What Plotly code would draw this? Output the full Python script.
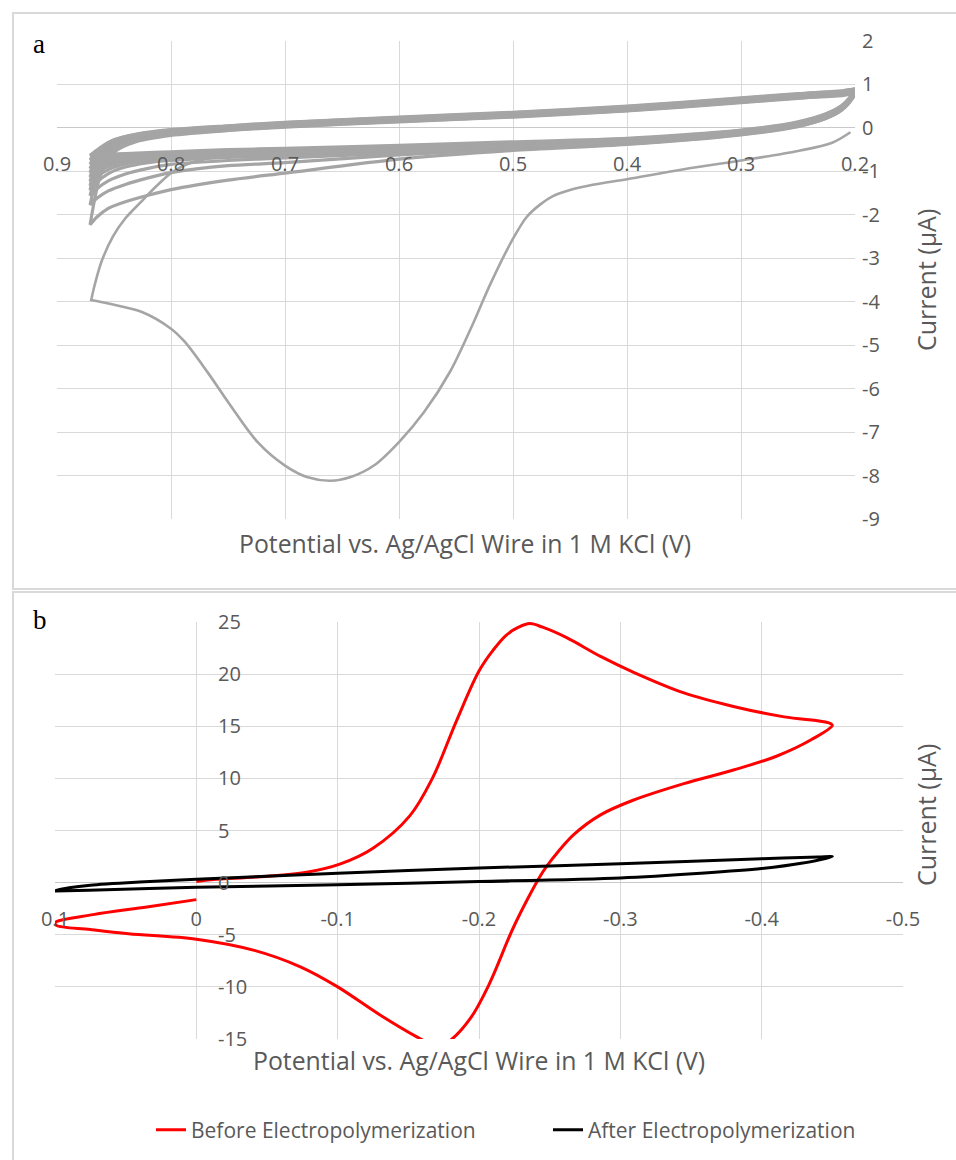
import plotly.graph_objects as go

# ---------------- Panel a data (potential V, current uA) ----------------
A_XTICKS = [0.9, 0.8, 0.7, 0.6, 0.5, 0.4, 0.3, 0.2]
A_XTICKTEXT = ["0.9", "0.8", "0.7", "0.6", "0.5", "0.4", "0.3", "0.2"]
A_YTICKS = [2, 1, 0, -1, -2, -3, -4, -5, -6, -7, -8, -9]
A_YTICKTEXT = ["2", "1", "0", "-1", "-2", "-3", "-4", "-5", "-6", "-7", "-8", "-9"]

# first cycle, forward scan (0.2 -> 0.87) with the big peak
A_C1_FWD_X = [0.204, 0.22, 0.25, 0.3, 0.35, 0.4, 0.43, 0.45, 0.465, 0.476, 0.488, 0.5, 0.52,
              0.535, 0.555, 0.578, 0.6, 0.622, 0.643, 0.66, 0.68, 0.7, 0.724, 0.748, 0.768,
              0.788, 0.8, 0.826, 0.855, 0.870]
A_C1_FWD_Y = [-0.1, -0.34, -0.53, -0.75, -0.95, -1.18, -1.31, -1.43, -1.57, -1.76, -2.05, -2.55,
              -3.6, -4.5, -5.6, -6.54, -7.23, -7.77, -8.04, -8.12, -8.04, -7.77, -7.23, -6.38,
              -5.62, -4.92, -4.62, -4.23, -4.04, -3.96]
# first cycle, reverse scan (0.87 -> 0.2)
A_C1_REV_X = [0.870, 0.867, 0.861, 0.851, 0.84, 0.827, 0.812, 0.798, 0.78, 0.75, 0.7, 0.6, 0.5,
              0.4, 0.3, 0.25, 0.225, 0.212, 0.205, 0.2]
A_C1_REV_Y = [-3.96, -3.62, -3.08, -2.5, -2.08, -1.72, -1.32, -1.0, -0.78, -0.64, -0.57, -0.5,
              -0.42, -0.32, -0.12, 0.06, 0.25, 0.43, 0.61, 0.81]

# later cycles: upper branch (0.2 -> 0.871) and lower branch (0.871 -> 0.2)
A_UP_X = [0.2, 0.203, 0.21, 0.25, 0.3, 0.4, 0.5, 0.6, 0.7, 0.75, 0.8, 0.83, 0.85, 0.862, 0.871]
A_LO_X = [0.871, 0.865, 0.855, 0.84, 0.82, 0.8, 0.75, 0.7, 0.6, 0.5, 0.4, 0.3, 0.25, 0.225,
          0.212, 0.205, 0.2]

C02_UP = [0.79, 0.78, 0.75, 0.68, 0.58, 0.39, 0.25, 0.14, 0.02, -0.06, -0.17, -0.31, -0.56, -1.10, -2.23]
C03_UP = [0.80, 0.79, 0.76, 0.69, 0.59, 0.40, 0.26, 0.15, 0.03, -0.05, -0.15, -0.28, -0.49, -0.90, -1.77]
C04_UP = [0.81, 0.80, 0.77, 0.70, 0.60, 0.41, 0.27, 0.16, 0.04, -0.04, -0.13, -0.25, -0.43, -0.76, -1.56]
C05_UP = [0.82, 0.81, 0.78, 0.71, 0.61, 0.42, 0.28, 0.17, 0.05, -0.03, -0.12, -0.23, -0.39, -0.66, -1.43]
C06_UP = [0.83, 0.82, 0.79, 0.72, 0.62, 0.43, 0.29, 0.18, 0.06, -0.02, -0.11, -0.22, -0.37, -0.61, -1.33]
C07_UP = [0.84, 0.83, 0.80, 0.73, 0.63, 0.44, 0.30, 0.19, 0.07, -0.01, -0.10, -0.21, -0.35, -0.57, -1.23]
C08_UP = [0.85, 0.84, 0.81, 0.74, 0.64, 0.45, 0.31, 0.20, 0.08, 0.00, -0.09, -0.19, -0.33, -0.53, -1.13]
C09_UP = [0.86, 0.85, 0.82, 0.75, 0.65, 0.46, 0.32, 0.21, 0.09, 0.01, -0.08, -0.18, -0.31, -0.51, -1.03]
C10_UP = [0.87, 0.86, 0.83, 0.76, 0.66, 0.47, 0.33, 0.22, 0.10, 0.02, -0.07, -0.17, -0.30, -0.49, -0.93]
C11_UP = [0.88, 0.87, 0.84, 0.77, 0.67, 0.48, 0.34, 0.23, 0.11, 0.03, -0.06, -0.16, -0.29, -0.47, -0.83]
C12_UP = [0.89, 0.88, 0.85, 0.78, 0.68, 0.49, 0.35, 0.24, 0.12, 0.04, -0.05, -0.15, -0.28, -0.46, -0.73]
C13_UP = [0.90, 0.89, 0.86, 0.79, 0.69, 0.50, 0.36, 0.25, 0.13, 0.05, -0.04, -0.14, -0.27, -0.45, -0.63]

C02_LO = [-2.23, -2.05, -1.85, -1.70, -1.55, -1.42, -1.20, -1.04, -0.72, -0.52, -0.38, -0.16, 0.03, 0.22, 0.40, 0.58, 0.79]
C03_LO = [-1.77, -1.62, -1.45, -1.30, -1.15, -1.03, -0.87, -0.80, -0.62, -0.49, -0.37, -0.15, 0.04, 0.23, 0.41, 0.59, 0.80]
C04_LO = [-1.56, -1.40, -1.22, -1.06, -0.93, -0.84, -0.75, -0.69, -0.58, -0.47, -0.36, -0.14, 0.05, 0.24, 0.42, 0.60, 0.81]
C05_LO = [-1.43, -1.25, -1.05, -0.90, -0.80, -0.75, -0.68, -0.64, -0.55, -0.46, -0.35, -0.13, 0.06, 0.25, 0.43, 0.61, 0.82]
C06_LO = [-1.33, -1.13, -0.96, -0.83, -0.75, -0.71, -0.65, -0.61, -0.53, -0.45, -0.34, -0.12, 0.07, 0.26, 0.44, 0.62, 0.83]
C07_LO = [-1.23, -1.03, -0.89, -0.78, -0.72, -0.68, -0.63, -0.59, -0.51, -0.43, -0.33, -0.11, 0.08, 0.27, 0.45, 0.63, 0.84]
C08_LO = [-1.13, -0.96, -0.83, -0.74, -0.69, -0.66, -0.61, -0.57, -0.50, -0.42, -0.32, -0.10, 0.09, 0.28, 0.46, 0.64, 0.85]
C09_LO = [-1.03, -0.89, -0.78, -0.71, -0.67, -0.64, -0.59, -0.55, -0.48, -0.40, -0.30, -0.09, 0.10, 0.29, 0.47, 0.65, 0.86]
C10_LO = [-0.93, -0.83, -0.74, -0.68, -0.64, -0.62, -0.57, -0.53, -0.46, -0.38, -0.28, -0.08, 0.11, 0.30, 0.48, 0.66, 0.87]
C11_LO = [-0.83, -0.77, -0.70, -0.65, -0.61, -0.59, -0.55, -0.51, -0.44, -0.36, -0.27, -0.07, 0.12, 0.31, 0.49, 0.67, 0.88]
C12_LO = [-0.73, -0.71, -0.66, -0.62, -0.59, -0.57, -0.52, -0.49, -0.42, -0.34, -0.25, -0.06, 0.13, 0.32, 0.50, 0.68, 0.89]
C13_LO = [-0.63, -0.63, -0.61, -0.59, -0.57, -0.55, -0.50, -0.47, -0.40, -0.32, -0.24, -0.05, 0.14, 0.33, 0.51, 0.69, 0.90]

A_CYCLES = [(C02_UP, C02_LO), (C03_UP, C03_LO), (C04_UP, C04_LO), (C05_UP, C05_LO),
            (C06_UP, C06_LO), (C07_UP, C07_LO), (C08_UP, C08_LO), (C09_UP, C09_LO),
            (C10_UP, C10_LO), (C11_UP, C11_LO), (C12_UP, C12_LO), (C13_UP, C13_LO)]

# ---------------- Panel b data ----------------
B_XTICKS = [0.1, 0.0, -0.1, -0.2, -0.3, -0.4, -0.5]
B_XTICKTEXT = ["0.1", "0", "-0.1", "-0.2", "-0.3", "-0.4", "-0.5"]
B_YTICKS = [25, 20, 15, 10, 5, 0, -5, -10, -15]
B_YTICKTEXT = ["25", "20", "15", "10", "5", "0", "-5", "-10", "-15"]

B_BEFORE_X = [0.0, 0.035, 0.073, 0.1, 0.099, 0.075, 0.048, 0.0, -0.041, -0.074, -0.1, -0.13,
              -0.156, -0.165, -0.172, -0.179, -0.194, -0.207, -0.224, -0.237, -0.245, -0.252,
              -0.267, -0.286, -0.309, -0.345, -0.38, -0.41, -0.435, -0.45, -0.447,
              -0.416, -0.38, -0.345, -0.309, -0.286, -0.262, -0.245, -0.236, -0.228, -0.219,
              -0.21, -0.2, -0.184, -0.167, -0.151, -0.125, -0.102, -0.078, -0.043, -0.012, 0.0]
B_BEFORE_Y = [-1.63, -2.33, -3.07, -3.85, -4.1, -4.5, -4.9, -5.43, -6.5, -8.1, -10.0, -12.7,
              -14.8, -15.4, -15.6, -15.2, -13.0, -9.8, -4.4, -0.9, 1.0, 2.3, 4.6, 6.5, 7.9, 9.5,
              10.8, 12.1, 13.7, 15.1, 15.35, 15.9, 16.9, 18.2, 20.2, 21.7, 23.5, 24.5,
              24.85, 24.5, 23.7, 22.3, 20.3, 15.5, 10.0, 6.4, 3.3, 1.8, 1.0, 0.55, 0.3, 0.1]

B_AFTER_X = [0.1, 0.09, 0.075, 0.04, 0.0, -0.1, -0.2, -0.3, -0.4, -0.44, -0.45, -0.428, -0.4,
             -0.357, -0.3, -0.2, -0.1, 0.0, 0.076, 0.1]
B_AFTER_Y = [-0.78, -0.5, -0.25, 0.05, 0.32, 0.9, 1.4, 1.8, 2.3, 2.45, 2.5, 1.85, 1.35, 0.9,
             0.45, 0.1, -0.2, -0.45, -0.72, -0.8]

# ---------------- figure ----------------
W, H = 956, 1160
GRID = "#d9d9d9"
TXT = "#595959"
GRAY = "#a5a5a5"
FONT = "Open Sans"


def fx(p):
    return p / W


def fy(p):
    return 1 - p / H


fig = go.Figure()

for up, lo in A_CYCLES:
    fig.add_trace(go.Scatter(x=A_UP_X + A_LO_X, y=up + lo, mode="lines",
                             line=dict(color=GRAY, width=3.2, shape="spline", smoothing=0.7),
                             xaxis="x", yaxis="y", showlegend=False, hoverinfo="skip"))
fig.add_trace(go.Scatter(x=A_C1_FWD_X + A_C1_REV_X, y=A_C1_FWD_Y + A_C1_REV_Y, mode="lines",
                         line=dict(color=GRAY, width=2.6, shape="spline", smoothing=0.9),
                         xaxis="x", yaxis="y", showlegend=False, hoverinfo="skip"))

fig.add_trace(go.Scatter(x=B_BEFORE_X, y=B_BEFORE_Y, mode="lines", name="Before Electropolymerization",
                         line=dict(color="#ff0000", width=3, shape="spline", smoothing=1.0),
                         xaxis="x2", yaxis="y2"))
fig.add_trace(go.Scatter(x=B_AFTER_X, y=B_AFTER_Y, mode="lines", name="After Electropolymerization",
                         line=dict(color="#000000", width=3, shape="spline", smoothing=0.8),
                         xaxis="x2", yaxis="y2"))

tickfont = dict(family=FONT, size=20, color=TXT)

fig.update_layout(
    width=W, height=H, margin=dict(l=0, r=0, t=0, b=0, autoexpand=False),
    paper_bgcolor="white", plot_bgcolor="white",
    font=dict(family=FONT, color=TXT),
    xaxis=dict(domain=[fx(57), fx(855)], range=[0.9, 0.2], tickvals=A_XTICKS, ticktext=A_XTICKTEXT,
               showgrid=True, gridcolor=GRID, gridwidth=1, zeroline=False, showline=False,
               ticks="", anchor="free", position=fy(150), tickfont=tickfont),
    yaxis=dict(domain=[fy(519), fy(41)], range=[-9, 2], tickvals=A_YTICKS, ticktext=A_YTICKTEXT,
               side="right", anchor="x", showgrid=True, gridcolor=GRID, gridwidth=1,
               zeroline=True, zerolinecolor="#c8c8c8", zerolinewidth=1, showline=False,
               ticks="", ticklabelstandoff=6, tickfont=tickfont),
    xaxis2=dict(domain=[fx(55), fx(903)], range=[0.1, -0.5], tickvals=B_XTICKS, ticktext=B_XTICKTEXT,
                showgrid=True, gridcolor=GRID, gridwidth=1, zeroline=False, showline=False,
                ticks="", anchor="free", position=fy(905), tickfont=tickfont),
    yaxis2=dict(domain=[fy(1039), fy(622)], range=[-15, 25], tickvals=B_YTICKS, ticktext=B_YTICKTEXT,
                side="right", anchor="free", position=fx(197), showgrid=True, gridcolor=GRID,
                gridwidth=1, zeroline=True, zerolinecolor="#c8c8c8", zerolinewidth=1,
                showline=False, ticks="", ticklabelstandoff=20, tickfont=tickfont),
    legend=dict(orientation="h", x=fx(151), y=fy(1130), xanchor="left", yanchor="middle",
                font=dict(family=FONT, size=21, color=TXT), entrywidth=352,
                entrywidthmode="pixels", bgcolor="rgba(0,0,0,0)"),
    showlegend=True,
)

title_font = dict(family=FONT, size=24.8, color=TXT)
ytitle_font = dict(family=FONT, size=25, color=TXT)
ann = [
    dict(text="a", x=fx(31), y=fy(44), xanchor="left", yanchor="middle", showarrow=False,
         font=dict(family="Liberation Serif", size=27, color="#000000")),
    dict(text="b", x=fx(31), y=fy(620), xanchor="left", yanchor="middle", showarrow=False,
         font=dict(family="Liberation Serif", size=27, color="#000000")),
    dict(text="Potential vs. Ag/AgCl Wire in 1 M KCl (V)", x=fx(465), y=fy(543), xanchor="center",
         yanchor="middle", showarrow=False, font=title_font),
    dict(text="Potential vs. Ag/AgCl Wire in 1 M KCl (V)", x=fx(479), y=fy(1060), xanchor="center",
         yanchor="middle", showarrow=False, font=title_font),
    dict(text="Current (µA)", x=fx(926), y=fy(280), xanchor="center", yanchor="middle",
         textangle=-90, showarrow=False, font=ytitle_font),
    dict(text="Current (µA)", x=fx(926), y=fy(815), xanchor="center", yanchor="middle",
         textangle=-90, showarrow=False, font=ytitle_font),
]
for a in ann:
    a["xref"] = "paper"
    a["yref"] = "paper"
fig.update_layout(annotations=ann)

BORDER = "#d9d9d9"
shapes = [
    dict(type="line", x0=fx(12), x1=1.0, y0=fy(13), y1=fy(13)),
    dict(type="line", x0=fx(13), x1=fx(13), y0=fy(12), y1=fy(590)),
    dict(type="line", x0=fx(12), x1=1.0, y0=fy(589), y1=fy(589)),
    dict(type="line", x0=fx(12), x1=1.0, y0=fy(592), y1=fy(592)),
    dict(type="line", x0=fx(13), x1=fx(13), y0=fy(592), y1=0.0),
]
for s in shapes:
    s["xref"] = "paper"
    s["yref"] = "paper"
    s["line"] = dict(color=BORDER, width=2)
fig.update_layout(shapes=shapes)

fig.write_html("out.html")
